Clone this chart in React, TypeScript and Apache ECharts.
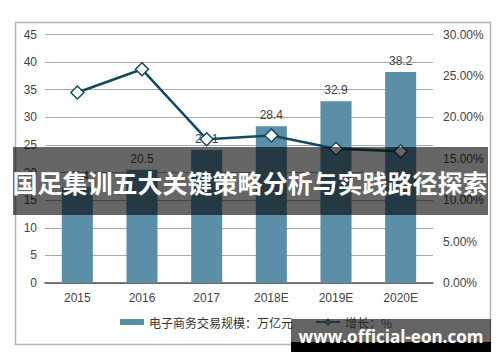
import React, { useEffect, useRef } from "react";
import * as echarts from "echarts";

const categories = ["2015", "2016", "2017", "2018E", "2019E", "2020E"];
const tradeScale = [17.4, 20.5, 24.1, 28.4, 32.9, 38.2];
const growthRate = [23.0, 25.8, 17.35, 17.8, 16.2, 15.9];
const barName = "电子商务交易规模：万亿元";
const lineName = "增长：%";
const bannerText = "国足集训五大关键策略分析与实践路径探索";
const watermarkText = "www.official-eon.com";

export default function App() {
  const ref = useRef<HTMLDivElement>(null);
  useEffect(() => {
    if (!ref.current) return;
    const chart = echarts.init(ref.current, undefined, { renderer: "svg" });
    const font = "'Liberation Sans', Arial, 'Noto Sans CJK SC', sans-serif";
    chart.setOption({
      animation: false,
      backgroundColor: "#ffffff",
      textStyle: { fontFamily: font },
      grid: { left: 45, right: 67, top: 34.5, bottom: 79, containLabel: false },
      legend: {
        bottom: 29,
        left: 115,
        itemWidth: 24,
        itemHeight: 6,
        itemGap: 22,
        textStyle: { fontSize: 12, color: "#333", fontFamily: "'Noto Sans CJK SC', sans-serif" },
        data: [
          { name: barName, icon: "rect" },
          { name: lineName },
        ],
      },
      xAxis: {
        type: "category",
        data: categories,
        axisLine: { lineStyle: { color: "#555", width: 1.5 } },
        axisTick: { show: false },
        axisLabel: { color: "#444", fontSize: 12, margin: 9 },
      },
      yAxis: [
        {
          type: "value",
          min: 0,
          max: 45,
          interval: 5,
          axisLine: { show: false },
          axisTick: { show: false },
          axisLabel: { color: "#444", fontSize: 12, margin: 8 },
          splitLine: { lineStyle: { color: "#a8a8a8", width: 1.2 } },
        },
        {
          type: "value",
          min: 0,
          max: 30,
          interval: 5,
          axisLine: { show: false },
          axisTick: { show: false },
          axisLabel: {
            color: "#444",
            fontSize: 12,
            margin: 10,
            formatter: (v: number) => v.toFixed(2) + "%",
          },
          splitLine: { show: false },
        },
      ],
      series: [
        {
          name: barName,
          type: "bar",
          data: tradeScale,
          barWidth: "48%",
          itemStyle: { color: "#5a8fa7" },
          label: { show: true, position: "top", color: "#444", fontSize: 12, distance: 5 },
          z: 2,
        },
        {
          name: lineName,
          type: "line",
          yAxisIndex: 1,
          data: growthRate,
          symbol: "diamond",
          symbolSize: 13,
          lineStyle: { color: "#0f4c61", width: 2.5 },
          itemStyle: { color: "#ffffff", borderColor: "#0f4c61", borderWidth: 1.5 },
          z: 3,
        },
      ],
      graphic: [
        {
          type: "rect",
          left: 13,
          top: 20,
          shape: { width: 475, height: 322 },
          style: { fill: "none", stroke: "#b5b5b5", lineWidth: 1.5 },
          z: 0,
          silent: true,
        },
        {
          type: "rect",
          left: 13,
          top: 147,
          shape: { width: 475, height: 68 },
          style: { fill: "rgba(0,0,0,0.6)" },
          z: 100,
        },
        {
          type: "text",
          x: 250,
          y: 182,
          style: {
            text: bannerText,
            fill: "#ffffff",
            font: "bold 25px 'Noto Sans CJK SC', sans-serif",
            align: "center",
            verticalAlign: "middle",
          },
          z: 101,
        },
        {
          type: "rect",
          left: 291,
          top: 319,
          shape: { width: 200, height: 23 },
          style: { fill: "rgba(40,40,40,0.72)" },
          z: 100,
        },
        {
          type: "rect",
          left: 291,
          top: 342,
          shape: { width: 200, height: 10 },
          style: { fill: "#000000" },
          z: 100,
        },
        {
          type: "text",
          x: 391,
          y: 336,
          style: {
            text: watermarkText,
            fill: "#ffffff",
            font: "bold 17px 'Open Sans', 'DejaVu Sans', sans-serif",
            align: "center",
            verticalAlign: "middle",
          },
          z: 101,
        },
      ],
    });
    return () => chart.dispose();
  }, []);
  return (
    <div
      ref={ref}
      style={{ width: 500, height: 362, position: "absolute", left: 0, top: 0 }}
    />
  );
}
